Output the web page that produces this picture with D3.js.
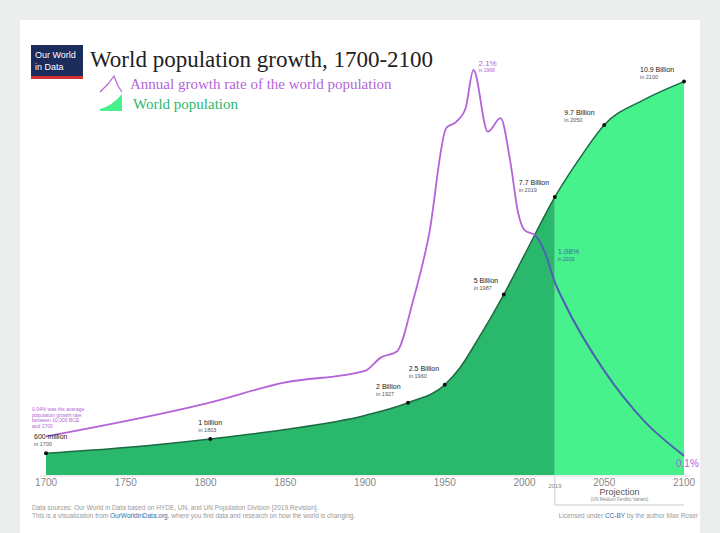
<!DOCTYPE html>
<html>
<head>
<meta charset="utf-8">
<script src="https://d3js.org/d3.v7.min.js"></script>
<style>
body{margin:0;background:#eceeee;}
text{font-family:"Liberation Sans",Arial,sans-serif;}
.serif{font-family:"Liberation Serif","DejaVu Serif",serif;}
</style>
</head>
<body>
<svg id="chart" width="720" height="533"></svg>
<script>
// population, billions
var popYears = [1700, 1750, 1803, 1850, 1900, 1927, 1950, 1960, 1970, 1987, 2000, 2019, 2035, 2050, 2075, 2100];
var popValues = [0.6, 0.76, 1.0, 1.26, 1.65, 2.0, 2.5, 3.0, 3.7, 5.0, 6.1, 7.7, 8.8, 9.7, 10.4, 10.9];
// annual growth rate, %
var rateYears = [1700, 1800, 1850, 1900, 1910, 1920, 1930, 1940, 1951, 1957, 1963, 1968, 1977, 1985, 1991, 1996, 2000, 2007, 2013, 2019, 2024, 2050, 2075, 2100];
var rateValues = [0.2, 0.37, 0.48, 0.54, 0.61, 0.64, 0.9, 1.24, 1.8, 1.83, 1.9, 2.1, 1.78, 1.85, 1.63, 1.36, 1.27, 1.24, 1.15, 1.0, 0.91, 0.54, 0.28, 0.1];
var xTicks = [1700, 1750, 1800, 1850, 1900, 1950, 2000, 2050, 2100];
var popLabels = [
  {year:1700, v:0.6, a:"600 million", b:"in 1700", dx:-12, dy:-14},
  {year:1803, v:1.0, a:"1 billion", b:"in 1803", dx:-12, dy:-14},
  {year:1927, v:2.0, a:"2 Billion", b:"in 1927", dx:-32, dy:-14},
  {year:1950, v:2.5, a:"2.5 Billion", b:"in 1960", dx:-36, dy:-14},
  {year:1987, v:5.0, a:"5 Billion", b:"in 1987", dx:-30, dy:-12},
  {year:2019, v:7.7, a:"7.7 Billion", b:"in 2019", dx:-36, dy:-12},
  {year:2050, v:9.7, a:"9.7 Billion", b:"in 2050", dx:-40, dy:-10},
  {year:2100, v:10.9, a:"10.9 Billion", b:"in 2100", dx:-44, dy:-10}
];
var projStart = 2019;

var svg = d3.select("#chart");
svg.append("rect").attr("x", 20).attr("y", 20).attr("width", 680).attr("height", 513).attr("fill", "#fff");

var x = d3.scaleLinear().domain([1700, 2100]).range([46, 684]);
var yP = d3.scaleLinear().domain([0, 11]).range([475, 78]);
var yR = d3.scaleLinear().domain([0, 2.1]).range([475, 70]);

var pop = popYears.map(function(d, i){ return [d, popValues[i]]; });
var rate = rateYears.map(function(d, i){ return [d, rateValues[i]]; });

var area = d3.area().curve(d3.curveMonotoneX).x(function(d){ return x(d[0]); }).y0(yP(0)).y1(function(d){ return yP(d[1]); });
var popLine = d3.line().curve(d3.curveMonotoneX).x(function(d){ return x(d[0]); }).y(function(d){ return yP(d[1]); });
var rateLine = d3.line().curve(d3.curveMonotoneX).x(function(d){ return x(d[0]); }).y(function(d){ return yR(d[1]); });

var defs = svg.append("defs");
defs.append("clipPath").attr("id", "hist").append("rect").attr("x", 0).attr("y", 0).attr("width", x(projStart)).attr("height", 533);
defs.append("clipPath").attr("id", "proj").append("rect").attr("x", x(projStart)).attr("y", 0).attr("width", 720).attr("height", 533);
defs.append("clipPath").attr("id", "inArea").append("path").attr("d", area(pop));

svg.append("path").attr("d", area(pop)).attr("fill", "#2ab86c").attr("clip-path", "url(#hist)");
svg.append("path").attr("d", area(pop)).attr("fill", "#47f18b").attr("clip-path", "url(#proj)");
svg.append("path").attr("d", popLine(pop)).attr("fill", "none").attr("stroke", "#1d6b42").attr("stroke-width", 1.5);

svg.append("path").attr("d", rateLine(rate)).attr("fill", "none").attr("stroke", "#b464d8").attr("stroke-width", 1.8);
svg.append("path").attr("d", rateLine(rate)).attr("fill", "none").attr("stroke", "#3a6aa8").attr("stroke-width", 1.8).attr("clip-path", "url(#inArea)");

// baseline + ticks
svg.append("line").attr("x1", 40).attr("x2", 690).attr("y1", 476).attr("y2", 476).attr("stroke", "#ddd");
svg.append("g").selectAll("text").data(xTicks).join("text")
  .attr("x", function(d){ return x(d); }).attr("y", 486).attr("text-anchor", "middle")
  .attr("font-size", 10).attr("fill", "#888").text(function(d){ return d; });

// population labels
var pl = svg.append("g").selectAll("g").data(popLabels).join("g");
pl.append("circle").attr("cx", function(d){ return x(d.year); }).attr("cy", function(d){ return yP(d.v); }).attr("r", 2).attr("fill", "#111");
pl.append("text").attr("x", function(d){ return x(d.year) + d.dx; }).attr("y", function(d){ return yP(d.v) + d.dy; })
  .attr("font-size", 7).attr("fill", "#222").text(function(d){ return d.a; });
pl.append("text").attr("x", function(d){ return x(d.year) + d.dx; }).attr("y", function(d){ return yP(d.v) + d.dy + 7; })
  .attr("font-size", 5.5).attr("fill", "#555").text(function(d){ return d.b; });

// rate labels
svg.append("text").attr("x", x(1968) + 5).attr("y", yR(2.1) - 4).attr("font-size", 8).attr("fill", "#b464d8").text("2.1%");
svg.append("text").attr("x", x(1968) + 5).attr("y", yR(2.1) + 2).attr("font-size", 5).attr("fill", "#b464d8").text("in 1968");
svg.append("text").attr("x", x(2019) + 3).attr("y", 254).attr("font-size", 7.5).attr("fill", "#3a6aa8").text("1.08%");
svg.append("text").attr("x", x(2019) + 3).attr("y", 261).attr("font-size", 5).attr("fill", "#3a6aa8").text("in 2019");
svg.append("text").attr("x", x(2100) - 8).attr("y", yR(0.1) + 11).attr("font-size", 10).attr("fill", "#b464d8").text("0.1%");
["0.04% was the average", "population growth rate", "between 10,000 BCE", "and 1700"].forEach(function(t, i){
  svg.append("text").attr("x", 32).attr("y", 411 + i * 5.5).attr("font-size", 5).attr("fill", "#b464d8").text(t);
});

// projection bracket
svg.append("line").attr("x1", x(projStart)).attr("x2", x(projStart)).attr("y1", 476).attr("y2", 505).attr("stroke", "#ccc");
svg.append("line").attr("x1", x(projStart)).attr("x2", x(2100)).attr("y1", 505).attr("y2", 505).attr("stroke", "#ccc");
svg.append("text").attr("x", x(projStart)).attr("y", 488).attr("text-anchor", "middle").attr("font-size", 6).attr("fill", "#888").text("2019");
svg.append("text").attr("x", (x(projStart) + x(2100)) / 2).attr("y", 495).attr("text-anchor", "middle").attr("font-size", 9).attr("fill", "#555").text("Projection");
svg.append("text").attr("x", (x(projStart) + x(2100)) / 2).attr("y", 501).attr("text-anchor", "middle").attr("font-size", 4.5).attr("fill", "#888").text("(UN Medium Fertility Variant)");

// header
svg.append("rect").attr("x", 31).attr("y", 45).attr("width", 52).attr("height", 34).attr("fill", "#1a2b5c");
svg.append("rect").attr("x", 31).attr("y", 76).attr("width", 52).attr("height", 3).attr("fill", "#d2302f");
svg.append("text").attr("x", 35).attr("y", 58).attr("font-size", 9).attr("fill", "#fff").text("Our World");
svg.append("text").attr("x", 35).attr("y", 70).attr("font-size", 9).attr("fill", "#fff").text("in Data");
svg.append("text").attr("class", "serif").attr("x", 90).attr("y", 67).attr("font-size", 23).attr("fill", "#222").text("World population growth, 1700-2100");
svg.append("path").attr("d", "M100,92 L108,84 L114,76 L118,86 L122,92").attr("fill", "none").attr("stroke", "#b464d8").attr("stroke-width", 1.2);
svg.append("text").attr("class", "serif").attr("x", 130).attr("y", 89).attr("font-size", 15).attr("fill", "#b464d8").text("Annual growth rate of the world population");
svg.append("path").attr("d", "M100,111 L122,111 L122,94 Q112,106 100,109 Z").attr("fill", "#47f18b");
svg.append("text").attr("class", "serif").attr("x", 133).attr("y", 109).attr("font-size", 15).attr("fill", "#2ab86c").text("World population");

// footer
svg.append("text").attr("x", 32).attr("y", 510).attr("font-size", 6.5).attr("fill", "#999").text("Data sources: Our World in Data based on HYDE, UN, and UN Population Division [2019 Revision].");
var f2 = svg.append("text").attr("x", 32).attr("y", 518).attr("font-size", 6.5).attr("fill", "#999");
f2.append("tspan").text("This is a visualization from ");
f2.append("tspan").attr("fill", "#3a6aa8").text("OurWorldinData.org");
f2.append("tspan").text(", where you find data and research on how the world is changing.");
var f3 = svg.append("text").attr("x", 698).attr("y", 518).attr("text-anchor", "end").attr("font-size", 6.5).attr("fill", "#999");
f3.append("tspan").text("Licensed under ");
f3.append("tspan").attr("fill", "#3a6aa8").text("CC-BY");
f3.append("tspan").text(" by the author Max Roser");
</script>
</body>
</html>
